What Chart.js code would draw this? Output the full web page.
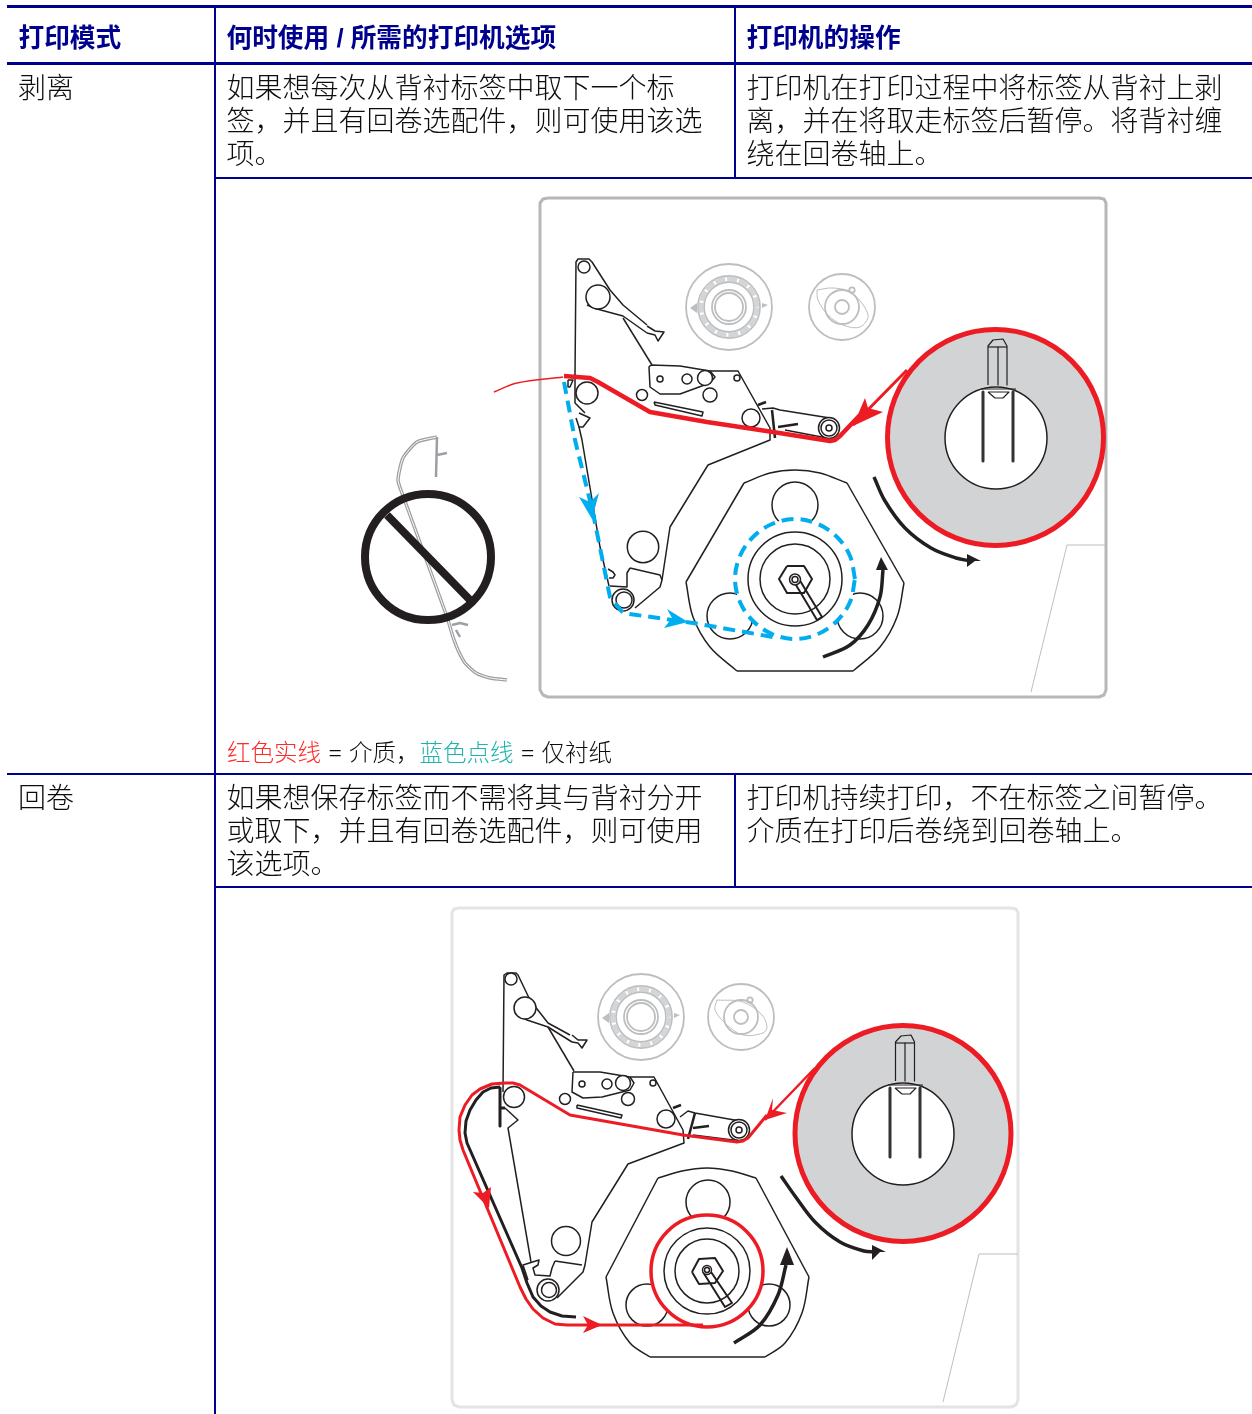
<!DOCTYPE html>
<html>
<head>
<meta charset="utf-8">
<title>打印模式</title>
<script src="https://cdn.jsdelivr.net/npm/chart.js@4/dist/chart.umd.min.js"></script>
<style>
  html, body { margin: 0; padding: 0; background: #fff; }
  #page { position: relative; width: 1252px; height: 1414px; overflow: hidden; }
  canvas { position: absolute; left: 0; top: 0; }
  .rule { position: absolute; background: #00008f; }
  .t { position: absolute; white-space: nowrap; font-family: "Liberation Serif", "Noto Sans CJK SC", serif; font-weight: 300; color: #0d0d0d; font-size: 28px; line-height: 33px; }
  .h { font-family: "Liberation Sans", "Noto Sans CJK SC", sans-serif; font-weight: 700; color: #00008f; font-size: 25.7px; }
  .legend { font-size: 23.5px; word-spacing: 1.5px; }
</style>
</head>
<body>
<div id="page">
  <canvas id="diagram" width="1252" height="1414"></canvas>
  <div class="rule" style="left:7px;top:5px;width:1245px;height:3px"></div>
  <div class="rule" style="left:7px;top:62px;width:1245px;height:3px"></div>
  <div class="rule" style="left:214px;top:5px;width:2px;height:1409px"></div>
  <div class="rule" style="left:734px;top:5px;width:2px;height:173px"></div>
  <div class="rule" style="left:215px;top:177px;width:1037px;height:2px"></div>
  <div class="rule" style="left:7px;top:773px;width:1245px;height:2px"></div>
  <div class="rule" style="left:734px;top:774px;width:2px;height:113px"></div>
  <div class="rule" style="left:215px;top:886px;width:1037px;height:2px"></div>

  <div class="t h" style="left:18.5px;top:22px">打印模式</div>
  <div class="t h" style="left:226.5px;top:22px">何时使用 / 所需的打印机选项</div>
  <div class="t h" style="left:746.5px;top:22px">打印机的操作</div>

  <div class="t" style="left:18px;top:72px">剥离</div>
  <div class="t" style="left:226.5px;top:72px">如果想每次从背衬标签中取下一个标</div>
  <div class="t" style="left:226.5px;top:105px">签，并且有回卷选配件，则可使用该选</div>
  <div class="t" style="left:226.5px;top:138px">项。</div>
  <div class="t" style="left:746.5px;top:72px">打印机在打印过程中将标签从背衬上剥</div>
  <div class="t" style="left:746.5px;top:105px">离，并在将取走标签后暂停。将背衬缠</div>
  <div class="t" style="left:746.5px;top:138px">绕在回卷轴上。</div>

  <div class="t legend" style="left:227px;top:737px"><span style="color:#ff2a2a">红色实线</span> = 介质，<span style="color:#1fb5ad">蓝色点线</span> = 仅衬纸</div>

  <div class="t" style="left:18px;top:782px">回卷</div>
  <div class="t" style="left:226.5px;top:782px">如果想保存标签而不需将其与背衬分开</div>
  <div class="t" style="left:226.5px;top:815px">或取下，并且有回卷选配件，则可使用</div>
  <div class="t" style="left:226.5px;top:848px">该选项。</div>
  <div class="t" style="left:746.5px;top:782px">打印机持续打印，不在标签之间暂停。</div>
  <div class="t" style="left:746.5px;top:815px">介质在打印后卷绕到回卷轴上。</div>
</div>
<script>
// colours
const BLACK = "#231f20";
const RED = "#ed1c24";
const BLUE = "#00aeef";
const GREY = "#bcbec0";
const ROLL = "#d1d3d4";

// --- peel diagram (top) ---
const peelFrame = [[548,198],[1099,198],[1104,199],[1106,203],[1106,690],[1104,695],[1099,697],[548,697],[543,695],[540,690],[540,203],[543,199],[548,198]];
const peelBlackLines = [
  [[575,375],[576,262],[578,259],[589,259],[592,262],[610,290],[623,305],[647,325]],
  [[587,305],[597,309],[623,316],[647,333]],
  [[647,326],[655,331],[664,332],[658,341],[655,335],[647,333]],
  [[623,318],[652,365]],
  [[651,365],[680,366],[710,371],[715,377],[710,383],[680,394],[660,394],[650,387],[649,367],[651,365]],
  [[710,371],[738,371],[770,428],[770,440],[708,465],[670,527],[662,580],[660,587],[635,608]],
  [[630,568],[660,575],[662,580]],
  [[630,568],[627,573],[627,587],[610,586]],
  [[608,569],[613,572],[615,575],[613,578],[609,578]],
  [[654,402],[703,412],[702,416],[655,405],[654,402]],
  [[762,409],[773,408],[780,410],[830,418]],
  [[785,430],[827,438]],
  [[575,375],[575,403],[585,413]],
  [[579,413],[590,418],[583,427],[579,427],[576,418]],
  [[579,427],[582,440],[600,547],[609,586]],
  [[568,380],[573,380],[570,387],[568,387],[568,380]],
  [[744,483],[686,582]],
  [[847,483],[904,583]],
  [[737,671],[853,671]],
  [[787,566],[804,566],[812,579],[804,593],[787,593],[779,579],[787,566]],
  [[793,580],[817,620],[822,617],[799,579]],
  [[988,385],[988,346],[993,340],[1003,339],[1007,346],[1007,385]],
  [[988,347],[1007,347]],
  [[998,347],[998,385]],
  [[981,389],[1016,389]],
  [[988,392],[1009,392],[1003,398],[995,398],[988,392]]
];
const peelBlackCurves = [
  [[744,483],[770,473],[795,470],[820,473],[847,483]],
  [[686,582],[693,617],[710,647],[737,671]],
  [[904,583],[897,617],[880,647],[853,671]]
];
const peelThick = [
  [[758,405],[766,402]],
  [[778,427],[798,424]],
  [[772,410],[775,438]],
  [[983,392],[983,461]],
  [[1013,392],[1013,461]]
];
const peelCircles = [
  [584,267,6],[598,297,12],[660,379,3],[687,379,5],[705,378,7.5],[737,378,3],[642,395,5.5],[710,395,7],[751,418,9],[587,393,11],
  [829,428,10.5],[829,428,8],[829,428,3],[643,547,15.7],[623,600,11],[624,600,8]
];
const peelRollers = [[795,505,23],[730,616,23],[860,616,23]];
const peelHub = [[795,579,47],[795,579,35]];
const peelHubCap = [[795,579.5,5.5],[795,579.5,3]];
const peelDisc = [[795,579,60]];
const peelDash = [[855,579],[850,556],[837,537],[818,524],[795,519],[772,524],[753,537],[740,556],[735,579],[740,602],[753,621],[772,634],[795,639],[818,634],[837,621],[850,602],[855,579]];
const peelRoll = [[995.5,437.5,108]];
const peelCore = [[996,438,51]];
const peelGreyCircles = [[729,307,43],[729,307,31],[729,307,25],[729,307,17],[729,307,14],[842,307,33],[842,307,17],[842,307,7],[852,290,2.7]];
const peelGear = [[757,307],[755,296],[749,287],[740,281],[729,279],[718,281],[709,287],[703,296],[701,307],[703,318],[709,327],[718,333],[729,335],[740,333],[749,327],[755,318],[757,307]];
const peelOval = [[817,290],[833,288],[852,293],[868,315],[860,327],[843,325],[828,315],[818,300],[817,290]];
const peelGreyFills = [[[690,308],[697,303],[697,313]],[[762,303],[768,305],[762,308]]];
const peelPage = [[1106,545],[1067,545],[1031,692]];
const mediaShape = [[437,437],[417,442],[403,458],[398,480],[402,493],[447,617],[453,637],[458,650],[465,663],[476,673],[490,678],[507,680]];
const mediaTabs = [[[437,437],[436,477]],[[437,455],[447,453]],[[452,625],[460,623],[468,625]],[[456,630],[460,637]]];
const noSign = [[428,557,63]];
const noSlash = [[387,515],[470,600]];
const peelRedThin = [[494,392],[517,383],[563,377]];
const peelRedThick = [[564,376],[590,378],[598,382],[650,412],[707,422],[773,432],[830,441],[835,440],[840,436],[860,415]];
const peelRedLead = [[853,425],[907,370]];
const peelRedHead = [[853,426],[865,398],[868,408],[883,412]];
const peelBlueLine = [[564,382],[575,440],[593,513],[610,597],[623,613],[693,623],[773,637]];
const peelBlueHeads = [[[592,519],[579,497],[590,502],[599,493]],[[688,622],[667,609],[672,618],[664,628]]];
const peelTurnDrum = [[823,657],[850,645],[868,625],[880,597],[883,570]];
const peelTurnDrumHead = [[876,570],[881,557],[888,570]];
const peelTurnRoll = [[874,477],[885,501],[905,528],[931,548],[956,558],[971,561]];
const peelTurnRollHead = [[967,554],[981,561],[975,561],[967,567]];

// --- rewind diagram (bottom) ---
const rewindFrame = [[459,908],[1011,908],[1016,909],[1018,913],[1018,1400],[1016,1405],[1011,1407],[459,1407],[454,1405],[452,1400],[452,913],[454,909],[459,908]];
const rewindBlackLines = [
  [[503,1092],[504,975],[507,973],[516,973],[518,975],[530,1000],[548,1023],[570,1035]],
  [[515,1013],[527,1020],[548,1027],[572,1042]],
  [[572,1035],[578,1040],[587,1040],[582,1048],[578,1043],[572,1042]],
  [[548,1027],[574,1071]],
  [[573,1072],[600,1072],[630,1077],[634,1083],[630,1090],[602,1097],[583,1098],[572,1092],[573,1072]],
  [[630,1077],[654,1077],[683,1130],[684,1143],[628,1164],[592,1222],[585,1265],[583,1272],[557,1298]],
  [[555,1261],[582,1265]],
  [[555,1261],[552,1268],[550,1276],[535,1275],[533,1268],[538,1265],[539,1260],[523,1265],[528,1280]],
  [[577,1105],[622,1115],[621,1118],[577,1108],[577,1105]],
  [[680,1117],[688,1111],[695,1113],[740,1121]],
  [[693,1135],[733,1140]],
  [[505,1108],[518,1120],[508,1128],[531,1262]],
  [[658,1178],[606,1277]],
  [[756,1178],[809,1277]],
  [[650,1357],[765,1357]],
  [[692,1272],[699,1259],[715,1258],[723,1271],[715,1283],[699,1284],[692,1272]],
  [[703,1272],[725,1307],[732,1303],[709,1269]],
  [[895.5,1081],[895.5,1042],[901,1036],[911,1035],[914.5,1042],[914.5,1081]],
  [[895.5,1043],[914.5,1043]],
  [[905,1043],[905,1081]],
  [[888,1085],[923,1085]],
  [[895,1088],[916,1088],[910,1094],[902,1094],[895,1088]]
];
const rewindBlackCurves = [
  [[658,1178],[682,1171],[707,1168],[732,1171],[756,1178]],
  [[606,1277],[613,1313],[630,1343],[650,1357]],
  [[809,1277],[802,1313],[785,1343],[765,1357]]
];
const rewindThick = [
  [[673,1108],[681,1105]],
  [[693,1128],[709,1126]],
  [[695,1113],[688,1139]],
  [[890,1088],[890,1157]],
  [[920,1088],[920,1157]],
  [[500,1088],[500,1126]],
  [[500,1108],[505,1108]]
];
const rewindCircles = [
  [511,979,6],[525,1008,11],[582,1084,3],[607,1084,5],[623,1083,7.5],[653,1083,3],[565,1099,5.5],[628,1099,6.5],[666,1119,9],[514,1097,10.5],
  [739,1130,10.5],[739,1130,8],[739,1130,3],[566,1241,14.5],[548,1290,11],[549,1290,7.5]
];
const rewindRollers = [[708,1202,22],[647,1305,21],[769,1305,21]];
const rewindHub = [[707,1271,43],[707,1271,32]];
const rewindHubCap = [[707,1270,4.5],[707,1270,2.5]];
const rewindDisc = [[707,1271,56]];
const rewindRoll = [[903,1133.5,108]];
const rewindCore = [[903,1134,51]];
const rewindGreyCircles = [[641,1017,43],[641,1017,31],[641,1017,25],[641,1017,17],[641,1017,14],[741,1017,33],[741,1017,17],[741,1017,7],[750,1000,2.7]];
const rewindGear = [[669,1017],[667,1006],[661,997],[652,991],[641,989],[630,991],[621,997],[615,1006],[613,1017],[615,1028],[621,1037],[630,1043],[641,1045],[652,1043],[661,1037],[667,1028],[669,1017]];
const rewindOval = [[717,1000],[743,1002],[762,1015],[767,1027],[763,1033],[743,1035],[727,1025],[715,1010],[717,1000]];
const rewindGreyFills = [[[602,1018],[609,1013],[609,1023]],[[674,1013],[680,1015],[674,1018]]];
const rewindPage = [[1018,1254],[979,1254],[943,1402]];
const rewindBlackMedia = [[500,1087],[491,1088],[483,1092],[476,1100],[470,1110],[466,1121],[465,1133],[467,1143],[522,1268],[527,1283],[533,1297],[541,1306],[550,1312],[562,1316],[576,1317]];
const rewindRedMedia = [[703,1325],[567,1325],[555,1324],[543,1318],[533,1309],[526,1299],[520,1287],[463,1150],[460,1140],[459,1130],[460,1117],[465,1105],[472,1095],[480,1089],[492,1084],[505,1083],[513,1083],[520,1085],[570,1115],[683,1135],[737,1142],[743,1141],[748,1138],[767,1115]];
const rewindRedLead = [[765,1120],[815,1068]];
const rewindRedHeads = [[[473,1192],[483,1193],[491,1187],[489,1208]],[[583,1316],[602,1325],[583,1333],[588,1325]],[[765,1120],[773,1098],[772,1110],[787,1113]]];
const rewindTurnDrum = [[734,1343],[760,1325],[778,1295],[786,1265]];
const rewindTurnDrumHead = [[780,1265],[787,1247],[794,1265]];
const rewindTurnRoll = [[781,1176],[795,1196],[815,1222],[840,1242],[864,1251],[875,1252]];
const rewindTurnRollHead = [[872,1245],[886,1252],[880,1252],[872,1260]];

const datasets = [];

const toXY = (pts) => pts.map((p) => ({ x: p[0], y: p[1] }));

const addLine = (pts, color, width, extra) => {
  datasets.push({
    type: "scatter",
    data: toXY(pts),
    showLine: true,
    pointRadius: 0,
    borderColor: color,
    borderWidth: width,
    borderJoinStyle: "round",
    tension: 0,
    fill: false,
    clip: false,
    ...extra,
  });
};

const addCurve = (pts, color, width, extra) => addLine(pts, color, width, { tension: 0.35, ...extra });

const addFill = (pts, color) => {
  addLine(pts, color, 0, { fill: "shape", backgroundColor: color });
};

const addCircles = (list, color, width, fillColor) => {
  datasets.push({
    type: "bubble",
    data: list.map((c) => ({ x: c[0], y: c[1], r: c[2] })),
    borderColor: color,
    borderWidth: width,
    backgroundColor: fillColor || "rgba(0,0,0,0)",
    clip: false,
  });
};

// peel
addLine(peelFrame, "#b5b7b9", 3);
addLine(peelPage, GREY, 1);
addCurve(mediaShape, "#9d9fa2", 3.5, { tension: 0.2 });
addCurve(mediaShape, "#ffffff", 1, { tension: 0.2 });
mediaTabs.forEach((p) => addLine(p, "#9d9fa2", 2.5));
addCircles(noSign, BLACK, 8);
addLine(noSlash, BLACK, 8);
addCircles(peelGreyCircles, GREY, 1.8);
addCurve(peelGear, "#d4d5d7", 5, { borderDash: [10, 2] });
addCurve(peelOval, GREY, 1);
peelGreyFills.forEach((p) => addFill(p, GREY));
peelBlackLines.slice(0, 19).forEach((p) => addLine(p, BLACK, 1.5));
peelBlackCurves.forEach((p) => addCurve(p, BLACK, 1.5));
addCircles(peelRollers, BLACK, 1.5, "#ffffff");
addCircles(peelDisc, "#ffffff", 0, "#ffffff");
addCircles(peelHub, BLACK, 1.5);
peelBlackLines.slice(19, 21).forEach((p) => addLine(p, BLACK, 2));
addCircles(peelHubCap, BLACK, 1.5, "#ffffff");
addCircles(peelCircles, BLACK, 1.5, "#ffffff");
peelThick.slice(0, 3).forEach((p) => addLine(p, BLACK, 2.5));
addCurve(peelTurnDrum, BLACK, 3.5);
addFill(peelTurnDrumHead, BLACK);
addCurve(peelTurnRoll, BLACK, 3.5);
addFill(peelTurnRollHead, BLACK);
addCircles(peelRoll, RED, 5, ROLL);
addCircles(peelCore, BLACK, 1.5, "#ffffff");
peelBlackLines.slice(21).forEach((p) => addLine(p, BLACK, 1.2));
peelThick.slice(3).forEach((p) => addLine(p, "#333333", 3));
addCurve(peelDash, BLUE, 4, { borderDash: [12, 7] });
addLine(peelBlueLine, BLUE, 4, { borderDash: [12, 7] });
peelBlueHeads.forEach((p) => addFill(p, BLUE));
addCurve(peelRedThin, RED, 1.5);
addLine(peelRedThick, RED, 4.5);
addLine(peelRedLead, RED, 3);
addFill(peelRedHead, RED);

// rewind
addLine(rewindFrame, "#e3e4e5", 3);
addLine(rewindPage, GREY, 1);
addCircles(rewindGreyCircles, GREY, 1.8);
addCurve(rewindGear, "#d4d5d7", 5, { borderDash: [10, 2] });
addCurve(rewindOval, GREY, 1);
rewindGreyFills.forEach((p) => addFill(p, GREY));
rewindBlackLines.slice(0, 15).forEach((p) => addLine(p, BLACK, 1.5));
rewindBlackCurves.forEach((p) => addCurve(p, BLACK, 1.5));
addCircles(rewindRollers, BLACK, 1.5, "#ffffff");
addCircles(rewindDisc, "#ffffff", 0, "#ffffff");
addCircles(rewindHub, BLACK, 1.5);
rewindBlackLines.slice(15, 17).forEach((p) => addLine(p, BLACK, 2));
addCircles(rewindHubCap, BLACK, 1.5, "#ffffff");
addCircles(rewindCircles, BLACK, 1.5, "#ffffff");
rewindThick.slice(0, 3).forEach((p) => addLine(p, BLACK, 2.5));
rewindThick.slice(5).forEach((p) => addLine(p, BLACK, 3));
addCurve(rewindTurnDrum, BLACK, 3.5);
addFill(rewindTurnDrumHead, BLACK);
addCurve(rewindTurnRoll, BLACK, 3.5);
addFill(rewindTurnRollHead, BLACK);
addCircles(rewindRoll, RED, 5, ROLL);
addCircles(rewindCore, BLACK, 1.5, "#ffffff");
rewindBlackLines.slice(17).forEach((p) => addLine(p, BLACK, 1.2));
rewindThick.slice(3, 5).forEach((p) => addLine(p, "#333333", 3));
addCircles(rewindDisc, RED, 3.5);
addLine(rewindBlackMedia, BLACK, 3);
addLine(rewindRedMedia, RED, 3);
addLine(rewindRedLead, RED, 2.5);
rewindRedHeads.forEach((p) => addFill(p, RED));

// first dataset is painted first, later ones go on top
datasets.forEach((d, i) => { d.order = -i; });

new Chart(document.getElementById("diagram"), {
  type: "scatter",
  data: { datasets },
  options: {
    responsive: false,
    animation: false,
    events: [],
    layout: { padding: 0, autoPadding: false },
    plugins: { legend: { display: false }, tooltip: { enabled: false }, title: { display: false } },
    scales: {
      x: { type: "linear", display: false, min: 0, max: 1252 },
      y: { type: "linear", display: false, min: 0, max: 1414, reverse: true },
    },
  },
});
</script>
</body>
</html>
